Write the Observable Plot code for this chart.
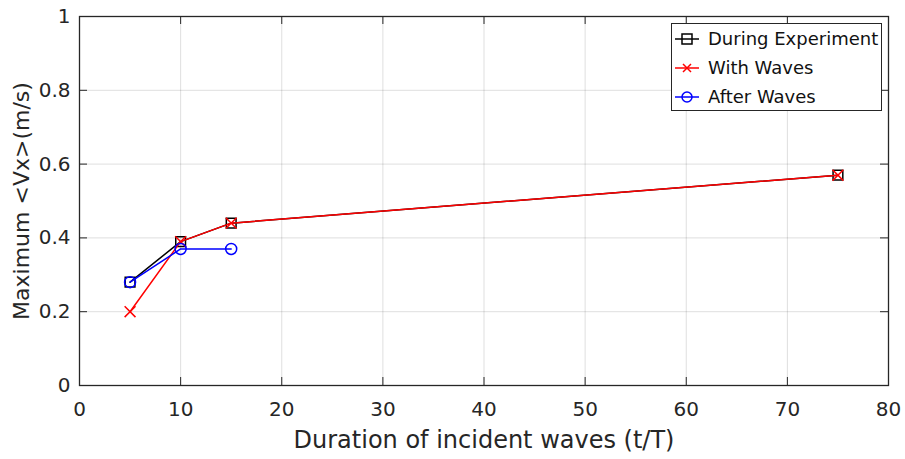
<!DOCTYPE html>
<html>
<head>
<meta charset="utf-8">
<script src="https://cdn.jsdelivr.net/npm/d3@7"></script>
<script src="https://cdn.jsdelivr.net/npm/@observablehq/plot@0.6"></script>
<style>
  html, body { margin: 0; padding: 0; background: #fff; }
  #wrap { position: relative; width: 905px; height: 459px; font-family: "DejaVu Sans", sans-serif; }
  #legend { position: absolute; left: 671px; top: 23px; width: 211px; height: 88px; border: 1.3px solid #262626; background: #fff; box-sizing: border-box; }
  .row { position: absolute; left: 0; height: 29px; display: flex; align-items: center; font-size: 18px; color: #111; white-space: nowrap; }
  .row svg { margin-left: 2px; margin-right: 8px; flex: none; }
</style>
</head>
<body>
<div id="wrap"></div>
<script>
const duration = [5, 10, 15, 75];
const duringExperiment = [0.28, 0.39, 0.44, 0.57];
const withWaves = [0.20, 0.39, 0.44, 0.57];
const afterWavesX = [5, 10, 15];
const afterWaves = [0.28, 0.37, 0.37];
const xTicks = [0, 10, 20, 30, 40, 50, 60, 70, 80];
const yTicks = [0, 0.2, 0.4, 0.6, 0.8, 1];
const seriesNames = ["During Experiment", "With Waves", "After Waves"];

const during = duration.map((x, i) => ({x, y: duringExperiment[i]}));
const wave = duration.map((x, i) => ({x, y: withWaves[i]}));
const after = afterWavesX.map((x, i) => ({x, y: afterWaves[i]}));

const W = 905, H = 459, mL = 79, mR = 17, mT = 16, mB = 74;
const tickLen = 8;
const innerW = W - mL - mR, innerH = H - mT - mB;

const chart = Plot.plot({
  width: W, height: H,
  marginLeft: mL, marginRight: mR, marginTop: mT, marginBottom: mB,
  style: {fontFamily: "DejaVu Sans, sans-serif", background: "#fff", color: "#262626", overflow: "visible"},
  x: {domain: [0, 80]},
  y: {domain: [0, 1]},
  marks: [
    Plot.gridX(xTicks, {stroke: "#000", strokeOpacity: 0.13, strokeWidth: 1}),
    Plot.gridY(yTicks, {stroke: "#000", strokeOpacity: 0.13, strokeWidth: 1}),
    Plot.tickX(xTicks, {x: d => d, insetTop: innerH - tickLen, stroke: "#262626"}),
    Plot.tickX(xTicks, {x: d => d, insetBottom: innerH - tickLen, stroke: "#262626"}),
    Plot.tickY(yTicks, {y: d => d, insetRight: innerW - tickLen, stroke: "#262626"}),
    Plot.tickY(yTicks, {y: d => d, insetLeft: innerW - tickLen, stroke: "#262626"}),
    Plot.axisX(xTicks, {tickSize: 0, tickPadding: 16, fontSize: 20, fill: "#262626",
      label: "Duration of incident waves (t/T)", labelAnchor: "center", labelArrow: "none", labelOffset: 62}),
    Plot.axisY(yTicks, {tickSize: 0, tickPadding: 9, fontSize: 20, fill: "#262626", tickFormat: d => String(d),
      label: "Maximum <Vx>(m/s)", labelAnchor: "center", labelArrow: "none", labelOffset: 66}),
    Plot.line(during, {x: "x", y: "y", stroke: "#000", strokeWidth: 1.5}),
    Plot.dot(during, {x: "x", y: "y", symbol: "square", r: 5.5, stroke: "#000", fill: "none", strokeWidth: 1.5}),
    Plot.line(wave, {x: "x", y: "y", stroke: "#ff0000", strokeWidth: 1.5}),
    Plot.dot(wave, {x: "x", y: "y", symbol: "times", r: 5, stroke: "#ff0000", fill: "none", strokeWidth: 1.5}),
    Plot.line(after, {x: "x", y: "y", stroke: "#0000ff", strokeWidth: 1.5}),
    Plot.dot(after, {x: "x", y: "y", symbol: "circle", r: 5.5, stroke: "#0000ff", fill: "none", strokeWidth: 1.5}),
    Plot.frame({stroke: "#262626", strokeWidth: 1.3})
  ]
});
chart.querySelectorAll("g[aria-label='x-axis label'] text").forEach(t => t.setAttribute("font-size", 24));
chart.querySelectorAll("g[aria-label='y-axis label'] text").forEach(t => t.setAttribute("font-size", 22));
const wrap = document.getElementById("wrap");
wrap.appendChild(chart);

const legend = document.createElement("div");
legend.id = "legend";
const glyphs = [
  `<line x1="1" x2="25" y1="8" y2="8" stroke="#000" stroke-width="1.5"/><rect x="8" y="3" width="10" height="10" fill="none" stroke="#000" stroke-width="1.5"/>`,
  `<line x1="1" x2="25" y1="8" y2="8" stroke="#f00" stroke-width="1.5"/><path d="M9,4L17,12M9,12L17,4" stroke="#f00" stroke-width="1.5"/>`,
  `<line x1="1" x2="25" y1="8" y2="8" stroke="#00f" stroke-width="1.5"/><circle cx="13" cy="8" r="5" fill="none" stroke="#00f" stroke-width="1.5"/>`
];
seriesNames.forEach((name, i) => {
  const row = document.createElement("div");
  row.className = "row";
  row.style.top = (0 + i * 29) + "px";
  row.innerHTML = `<svg width="26" height="16">${glyphs[i]}</svg><span>${name}</span>`;
  legend.appendChild(row);
});
wrap.appendChild(legend);
</script>
</body>
</html>
